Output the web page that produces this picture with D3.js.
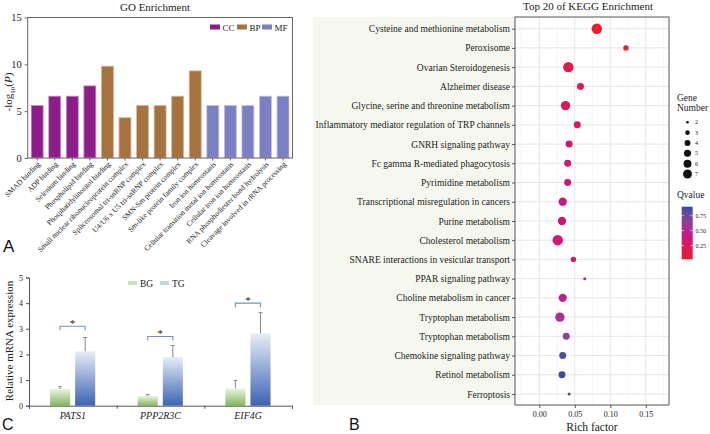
<!DOCTYPE html>
<html><head><meta charset="utf-8">
<script src="https://cdn.jsdelivr.net/npm/d3@7"></script>
<style>
html,body{margin:0;padding:0;background:#fff;}
svg{display:block;}
text{font-family:"Liberation Serif","Times New Roman",serif;fill:#222;}
.lab{font-family:"Liberation Sans",Arial,sans-serif;fill:#111;}
</style></head>
<body>
<svg id="chart" width="710" height="434"></svg>
<script>
// ---------- Panel A: GO enrichment ----------
const goTerms = ["SMAD binding","ADP binding","Selenium binding","Phospholipid binding",
  "Phosphatidylinositol binding","Small nuclear ribonucleoprotein complex","Spliceosomal tri-snRNP complex",
  "U4/U6 x U5 tri-snRNP complex","SMN-Sm protein complex","Sm-like protein family complex",
  "Iron ion homeostasis","Cellular transition metal ion homeostasis","Cellular iron ion homeostasis",
  "RNA phosphodiester bond hydrolysis","Cleavage involved in rRNA processing"];
const goValues = [5.6,6.6,6.6,7.7,9.8,4.3,5.6,5.6,6.6,9.3,5.6,5.6,5.6,6.6,6.6];
const goClass = ["CC","CC","CC","CC","BP","BP","BP","BP","BP","BP","MF","MF","MF","MF","MF"];
const goClassNames = ["CC","BP","MF"];
const goTicks = [0,5,10,15];

// ---------- Panel B: KEGG ----------
const keggTerms = ["Cysteine and methionine metabolism","Peroxisome","Ovarian Steroidogenesis","Alzheimer disease",
  "Glycine, serine and threonine metabolism","Inflammatory mediator regulation of TRP channels",
  "GNRH signaling pathway","Fc gamma R-mediated phagocytosis","Pyrimidine metabolism",
  "Transcriptional misregulation in cancers","Purine metabolism","Cholesterol metabolism",
  "SNARE interactions in vesicular transport","PPAR signaling pathway","Choline metabolism in cancer",
  "Tryptophan metabolism","Tryptophan metabolism ","Chemokine signaling pathway","Retinol metabolism","Ferroptosis"];
const keggRich = [0.081,0.122,0.041,0.058,0.037,0.0535,0.042,0.040,0.040,0.033,0.032,0.026,0.048,0.064,0.033,0.029,0.038,0.033,0.032,0.042];
const keggCount = [7,3,7,4,6,4,4,4,4,5,5,7,3,2,5,6,4,4,4,2];
const keggQ = [0.03,0.10,0.16,0.22,0.24,0.26,0.32,0.35,0.35,0.40,0.36,0.34,0.30,0.37,0.48,0.53,0.64,0.84,0.88,0.86];
const keggXTicks = [0,0.05,0.10,0.15];
const sizeLegend = [2,3,4,5,6,7];
const qTicks = [0.25,0.50,0.75];

// ---------- Panel C: qPCR ----------
const genes = ["PATS1","PPP2R3C","EIF4G"];
const groups = ["BG","TG"];
const bgMean = [0.65,0.38,0.67];
const bgErr = [0.09,0.05,0.31];
const tgMean = [2.12,1.90,2.82];
const tgErr = [0.54,0.45,0.81];
const sigLevel = [3.1,2.7,4.0];
const cTicks = [0,1,2,3,4,5];

const svg = d3.select("#chart");
const defs = svg.append("defs");

// ===== Panel A =====
(function(){
  const L=27.7, R=292.5, T=17.5, B=158;
  const colors = {CC:"#8c1d8b", BP:"#a6723e", MF:"#7b7fc3"};
  const stroke = {CC:"#c98ec8", BP:"#d8b898", MF:"#c0c2e6"};
  const x = d3.scaleBand().domain(goTerms).range([L,R]).paddingInner(0.32).paddingOuter(0.2);
  const y = d3.scaleLinear().domain([0,15]).range([B,T]);
  const g = svg.append("g");
  g.append("text").attr("x",155).attr("y",11).attr("text-anchor","middle").style("font-size","11px").text("GO Enrichment");
  g.selectAll("rect.bar").data(goTerms).join("rect").attr("class","bar")
    .attr("x",d=>x(d)).attr("width",x.bandwidth())
    .attr("y",(d,i)=>y(goValues[i])).attr("height",(d,i)=>B-y(goValues[i]))
    .attr("fill",(d,i)=>colors[goClass[i]]).attr("stroke",(d,i)=>stroke[goClass[i]]).attr("stroke-width",0.8);
  g.append("rect").attr("x",L).attr("y",T).attr("width",R-L).attr("height",B-T)
    .attr("fill","none").attr("stroke","#666").attr("stroke-width",1);
  const ya = d3.axisLeft(y).tickValues(goTicks).tickSize(3).tickFormat(d3.format("d"));
  const yg = g.append("g").attr("transform",`translate(${L},0)`).call(ya);
  yg.select(".domain").remove();
  yg.selectAll("line").attr("stroke","#666");
  yg.selectAll("text").style("font-size","10.5px").attr("fill","#222").attr("font-family","Liberation Serif");
  const xa = d3.axisBottom(x).tickSize(2.5).tickFormat("");
  const xg = g.append("g").attr("transform",`translate(0,${B})`).call(xa);
  xg.select(".domain").remove();
  xg.selectAll("line").attr("stroke","#666");
  g.selectAll("text.xl").data(goTerms).join("text").attr("class","xl")
    .attr("transform",d=>`translate(${x(d)+x.bandwidth()/2+2},${B+5}) rotate(-45)`)
    .attr("text-anchor","end").attr("dy","0.3em").style("font-size","7.5px").text(d=>d);
  const yl = g.append("text").attr("transform","translate(12,92) rotate(-90)").attr("text-anchor","middle").style("font-size","11px");
  yl.append("tspan").text("-log");
  yl.append("tspan").attr("dy","3").style("font-size","7px").text("10");
  yl.append("tspan").attr("dy","-3").text("(");
  yl.append("tspan").style("font-style","italic").text("P");
  yl.append("tspan").text(")");
  const lx = [210,237,262];
  goClassNames.forEach((c,i)=>{
    g.append("rect").attr("x",lx[i]).attr("y",24.5).attr("width",10).attr("height",5).attr("fill",colors[c]);
    g.append("text").attr("x",lx[i]+12.5).attr("y",30.5).style("font-size","9px").text(c);
  });
  g.append("text").attr("class","lab").attr("x",3).attr("y",252).style("font-size","17px").text("A");
})();

// ===== Panel C =====
(function(){
  const L=29, R=292, T=277.5, B=405.7;
  const x = d3.scaleBand().domain(genes).range([L,R]).padding(0);
  const xi = d3.scaleBand().domain(groups).range([x.bandwidth()*0.24, x.bandwidth()*0.755]).paddingInner(0.2);
  const y = d3.scaleLinear().domain([0,5]).range([B,T]);
  const g = svg.append("g");
  const gradBG = defs.append("linearGradient").attr("id","gBG").attr("x1",0).attr("y1",0).attr("x2",0).attr("y2",1);
  gradBG.append("stop").attr("offset","0%").attr("stop-color","#eaf3df");
  gradBG.append("stop").attr("offset","100%").attr("stop-color","#7fb95a");
  const gradTG = defs.append("linearGradient").attr("id","gTG").attr("x1",0).attr("y1",0).attr("x2",0).attr("y2",1);
  gradTG.append("stop").attr("offset","0%").attr("stop-color","#e8edf7");
  gradTG.append("stop").attr("offset","100%").attr("stop-color","#3b63b3");
  const rows = [];
  genes.forEach((gname,i)=>{
    rows.push({gene:gname,grp:"BG",v:bgMean[i],e:bgErr[i]});
    rows.push({gene:gname,grp:"TG",v:tgMean[i],e:tgErr[i]});
  });
  g.selectAll("line.err").data(rows).join("line").attr("class","err")
    .attr("x1",d=>x(d.gene)+xi(d.grp)+xi.bandwidth()/2).attr("x2",d=>x(d.gene)+xi(d.grp)+xi.bandwidth()/2)
    .attr("y1",d=>y(d.v)).attr("y2",d=>y(d.v+d.e)).attr("stroke","#888").attr("stroke-width",1);
  g.selectAll("line.cap").data(rows).join("line").attr("class","cap")
    .attr("x1",d=>x(d.gene)+xi(d.grp)+xi.bandwidth()/2-2).attr("x2",d=>x(d.gene)+xi(d.grp)+xi.bandwidth()/2+2)
    .attr("y1",d=>y(d.v+d.e)).attr("y2",d=>y(d.v+d.e)).attr("stroke","#888").attr("stroke-width",1);
  g.selectAll("rect.cb").data(rows).join("rect").attr("class","cb")
    .attr("x",d=>x(d.gene)+xi(d.grp)).attr("width",xi.bandwidth())
    .attr("y",d=>y(d.v)).attr("height",d=>B-y(d.v))
    .attr("fill",d=>d.grp==="BG"?"url(#gBG)":"url(#gTG)");
  genes.forEach((gname,i)=>{
    const x1 = x(gname)+xi("BG")+xi.bandwidth()/2, x2 = x(gname)+xi("TG")+xi.bandwidth()/2, yy=y(sigLevel[i]);
    g.append("path").attr("d",`M${x1},${yy+4}V${yy}H${x2}V${yy+4}`).attr("fill","none").attr("stroke","#7592b5").attr("stroke-width",1.1);
    g.append("text").attr("x",(x1+x2)/2).attr("y",yy+1).attr("text-anchor","middle").style("font-size","11px").text("*");
  });
  const ya = d3.axisLeft(y).tickValues(cTicks).tickSize(3).tickFormat(d3.format("d"));
  const yg = g.append("g").attr("transform",`translate(${L},0)`).call(ya);
  yg.select(".domain").attr("stroke","#555");
  yg.selectAll("line").attr("stroke","#555");
  yg.selectAll("text").style("font-size","8px").attr("fill","#222").attr("font-family","Liberation Serif");
  const bnd = d3.scaleLinear().domain([0,genes.length]).range([L,R]);
  const xg = g.append("g").attr("transform",`translate(0,${B})`).call(d3.axisBottom(bnd).tickValues([0,1,2,3]).tickSize(3).tickFormat(""));
  xg.select(".domain").attr("stroke","#555");
  xg.selectAll("line").attr("stroke","#555");
  g.selectAll("text.gl").data(genes).join("text").attr("class","gl")
    .attr("x",d=>x(d)+x.bandwidth()/2).attr("y",419).attr("text-anchor","middle")
    .style("font-size","10px").style("font-style","italic").text(d=>d);
  g.append("text").attr("transform","translate(13,341) rotate(-90)").attr("text-anchor","middle").style("font-size","11px").text("Relative mRNA expression");
  const lcol = ["#c9deb9","#c6d2ec"];
  const lx = [128,160];
  groups.forEach((gr,i)=>{
    g.append("rect").attr("x",lx[i]).attr("y",281).attr("width",9).attr("height",4).attr("fill",lcol[i]);
    g.append("text").attr("x",lx[i]+12).attr("y",286.5).style("font-size","9.5px").attr("fill","#333").text(gr);
  });
  g.append("text").attr("class","lab").attr("x",2).attr("y",430).style("font-size","16px").text("C");
})();

// ===== Panel B =====
(function(){
  const L=515, R=669, T=17, B=405;
  const g = svg.append("g");
  g.append("rect").attr("x",313).attr("y",T).attr("width",L-313).attr("height",B-T).attr("fill","#f6f8ef");
  const x = d3.scaleLinear().domain([-0.0342,0.1827]).range([L,R]);
  const y = d3.scalePoint().domain(keggTerms).range([28.7,394]);
  const r = d3.scaleRadial().domain([2,7]).range([1.5,5.2]);
  const col = d3.scaleLinear().domain([0.02,0.45,0.9]).range(["#ee1c25","#c2188c","#2b4ea8"]).interpolate(d3.interpolateLab);
  g.append("rect").attr("x",L).attr("y",T).attr("width",R-L).attr("height",B-T).attr("fill","#fff");
  const minor = [-0.025,0.025,0.075,0.125,0.175];
  g.selectAll("line.mn").data(minor).join("line").attr("class","mn")
    .attr("x1",d=>x(d)).attr("x2",d=>x(d)).attr("y1",T).attr("y2",B).attr("stroke","#f0f0f0").attr("stroke-width",0.6);
  g.selectAll("line.mj").data(keggXTicks).join("line").attr("class","mj")
    .attr("x1",d=>x(d)).attr("x2",d=>x(d)).attr("y1",T).attr("y2",B).attr("stroke","#e3e3e3").attr("stroke-width",0.9);
  g.selectAll("line.hz").data(keggTerms).join("line").attr("class","hz")
    .attr("x1",L).attr("x2",R).attr("y1",d=>y(d)).attr("y2",d=>y(d)).attr("stroke","#e3e3e3").attr("stroke-width",0.9);
  g.selectAll("circle.pt").data(keggTerms).join("circle").attr("class","pt")
    .attr("cx",(d,i)=>x(keggRich[i])).attr("cy",d=>y(d)).attr("r",(d,i)=>r(keggCount[i]))
    .attr("fill",(d,i)=>col(keggQ[i]));
  g.append("rect").attr("x",L).attr("y",T).attr("width",R-L).attr("height",B-T).attr("fill","none").attr("stroke","#555").attr("stroke-width",1);
  const ya = d3.axisLeft(y).tickSize(3).tickPadding(2);
  const yg = g.append("g").attr("transform",`translate(${L},0)`).call(ya);
  yg.select(".domain").remove();
  yg.selectAll("line").attr("stroke","#555");
  yg.selectAll("text").style("font-size","9.5px").attr("fill","#222").attr("font-family","Liberation Serif");
  const xa = d3.axisBottom(x).tickValues(keggXTicks).tickSize(3).tickFormat(d3.format(".2f"));
  const xg = g.append("g").attr("transform",`translate(0,${B})`).call(xa);
  xg.select(".domain").remove();
  xg.selectAll("line").attr("stroke","#555");
  xg.selectAll("text").style("font-size","8px").attr("fill","#444").attr("font-family","Liberation Serif");
  g.append("text").attr("x",(L+R)/2).attr("y",431).attr("text-anchor","middle").style("font-size","11.5px").text("Rich factor");
  g.append("text").attr("x",588).attr("y",10).attr("text-anchor","middle").style("font-size","11px").text("Top 20 of KEGG Enrichment");
  g.append("text").attr("x",677).attr("y",101).style("font-size","9.5px").text("Gene");
  g.append("text").attr("x",677).attr("y",111).style("font-size","9.5px").text("Number");
  const ly = d3.scaleLinear().domain([2,7]).range([122.3,174]);
  g.selectAll("circle.lg").data(sizeLegend).join("circle").attr("class","lg")
    .attr("cx",687.5).attr("cy",d=>ly(d)).attr("r",d=>r(d)*0.85).attr("fill","#111");
  g.selectAll("text.lgt").data(sizeLegend).join("text").attr("class","lgt")
    .attr("x",695).attr("y",d=>ly(d)+2).style("font-size","6px").text(d=>d);
  g.append("text").attr("x",677).attr("y",198).style("font-size","9.5px").text("Qvalue");
  const cb = d3.scaleLinear().domain([0.02,0.9]).range([259.3,206.7]);
  const grad = defs.append("linearGradient").attr("id","qgrad").attr("x1",0).attr("y1",1).attr("x2",0).attr("y2",0);
  d3.range(0,1.0001,0.1).forEach(t=>{
    grad.append("stop").attr("offset",(t*100)+"%").attr("stop-color",col(0.02+t*0.88));
  });
  g.append("rect").attr("x",681.7).attr("y",206.7).attr("width",11).attr("height",259.3-206.7).attr("fill","url(#qgrad)");
  g.selectAll("line.qt").data(qTicks).join("line").attr("class","qt")
    .attr("x1",681.7).attr("x2",684).attr("y1",d=>cb(d)).attr("y2",d=>cb(d)).attr("stroke","#fff").attr("stroke-width",0.6);
  g.selectAll("line.qt2").data(qTicks).join("line").attr("class","qt2")
    .attr("x1",690.4).attr("x2",692.7).attr("y1",d=>cb(d)).attr("y2",d=>cb(d)).attr("stroke","#fff").attr("stroke-width",0.6);
  g.selectAll("text.qtl").data(qTicks).join("text").attr("class","qtl")
    .attr("x",695.5).attr("y",d=>cb(d)+2).style("font-size","6px").text(d=>d3.format(".2f")(d));
  g.append("text").attr("class","lab").attr("x",349).attr("y",430).style("font-size","16px").text("B");
})();
</script>
</body></html>
